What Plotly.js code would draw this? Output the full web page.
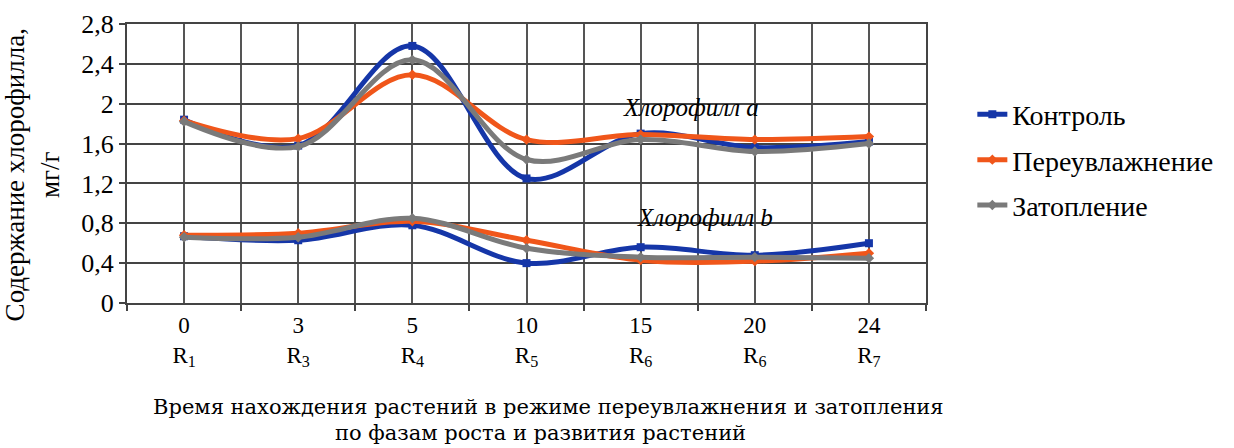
<!DOCTYPE html>
<html>
<head>
<meta charset="utf-8">
<script src="https://cdn.plot.ly/plotly-3.0.1.min.js"></script>
<style>html,body{margin:0;padding:0;background:#fff;}#chart{width:1234px;height:448px;}</style>
</head>
<body>
<div id="chart"></div>
<script>
const days = ['0', '3', '5', '10', '15', '20', '24'];
const phases = ['R<sub>1</sub>', 'R<sub>3</sub>', 'R<sub>4</sub>', 'R<sub>5</sub>', 'R<sub>6</sub>', 'R<sub>6</sub>', 'R<sub>7</sub>'];
const seriesNames = ['Контроль', 'Переувлажнение', 'Затопление'];
const chlA_control = [1.84, 1.58, 2.58, 1.25, 1.70, 1.56, 1.62];
const chlA_wet = [1.83, 1.65, 2.29, 1.64, 1.69, 1.64, 1.67];
const chlA_flood = [1.82, 1.57, 2.44, 1.44, 1.64, 1.52, 1.60];
const chlB_control = [0.67, 0.63, 0.78, 0.40, 0.56, 0.48, 0.60];
const chlB_wet = [0.68, 0.70, 0.82, 0.63, 0.43, 0.42, 0.50];
const chlB_flood = [0.66, 0.66, 0.85, 0.55, 0.46, 0.46, 0.45];
const colors = ['#1536a8', '#f0561a', '#7a7a7a'];
const symbols = ['square', 'diamond', 'diamond'];
const xTitle1 = 'Время нахождения растений в режиме переувлажнения и затопления';
const xTitle2 = 'по фазам роста и развития растений';
const yTitle = 'Содержание хлорофилла,<br>мг/г';

const xIdx = days.map((d, i) => i);
const tickText = days.map((d, i) => d + '<br>' + phases[i]);
const FONT = 'Liberation Serif, Times New Roman, serif';
const WIDE = 'DejaVu Serif, Liberation Serif, serif';

const aSeries = [chlA_control, chlA_wet, chlA_flood];
const bSeries = [chlB_control, chlB_wet, chlB_flood];
const traces = [];
for (let k = 0; k < 3; k++) {
  traces.push({
    x: xIdx, y: aSeries[k], type: 'scatter', mode: 'lines+markers',
    name: seriesNames[k], legendgroup: 'g' + k, showlegend: true,
    line: {color: colors[k], width: 5, shape: 'spline', smoothing: 1},
    marker: {color: colors[k], size: 8, symbol: symbols[k]}
  });
}
for (let k = 0; k < 3; k++) {
  traces.push({
    x: xIdx, y: bSeries[k], type: 'scatter', mode: 'lines+markers',
    name: seriesNames[k], legendgroup: 'g' + k, showlegend: false,
    line: {color: colors[k], width: 5, shape: 'spline', smoothing: 1},
    marker: {color: colors[k], size: 8, symbol: symbols[k]}
  });
}

const layout = {
  width: 1234, height: 448,
  margin: {l: 127, r: 308, t: 24, b: 145},
  paper_bgcolor: '#fff', plot_bgcolor: '#fff',
  separators: ',.',
  font: {family: FONT, color: '#000', size: 24},
  showlegend: true,
  legend: {
    x: 1.058, xanchor: 'left', y: 0.765, yanchor: 'top',
    font: {family: FONT, size: 28, color: '#000'},
    traceorder: 'grouped', tracegroupgap: 6,
    bgcolor: 'rgba(0,0,0,0)'
  },
  xaxis: {
    range: [-0.5, 6.5], tickmode: 'array', tickvals: xIdx, ticktext: tickText,
    showgrid: true, gridcolor: '#555', gridwidth: 2,
    ticks: '', showline: true, linecolor: '#444', linewidth: 2, mirror: true,
    tickfont: {family: FONT, size: 23, color: '#000'},
    minor: {tickmode: 'linear', tick0: -0.5, dtick: 1, showgrid: true, gridcolor: '#555', gridwidth: 2, ticks: 'outside', ticklen: 6, tickcolor: '#444', tickwidth: 2},
    zeroline: false, fixedrange: true
  },
  yaxis: {
    range: [0, 2.8], tickmode: 'linear', tick0: 0, dtick: 0.4,
    showgrid: true, gridcolor: '#444', gridwidth: 2,
    ticks: 'outside', ticklen: 6, tickcolor: '#444', tickwidth: 2,
    showline: true, linecolor: '#444', linewidth: 2, mirror: true,
    tickfont: {family: FONT, size: 26, color: '#000'},
    zeroline: false, fixedrange: true
  },
  annotations: [
    {xref: 'x', yref: 'y', x: 4.44, y: 1.96, text: '<i>Хлорофилл a</i>', showarrow: false,
     font: {family: FONT, size: 25, color: '#000'}},
    {xref: 'x', yref: 'y', x: 4.56, y: 0.86, text: '<i>Хлорофилл b</i>', showarrow: false,
     font: {family: FONT, size: 25, color: '#000'}},
    {xref: 'paper', yref: 'paper', x: (548 - 127) / 799, y: (303 - 407) / 279, yanchor: 'middle', xanchor: 'center',
     text: xTitle1, showarrow: false, font: {family: WIDE, size: 21, color: '#000'}},
    {xref: 'paper', yref: 'paper', x: (540 - 127) / 799, y: (303 - 433) / 279, yanchor: 'middle', xanchor: 'center',
     text: xTitle2, showarrow: false, font: {family: WIDE, size: 21, color: '#000'}},
    {xref: 'paper', yref: 'paper', x: -0.118, xanchor: 'center', y: 0.46, yanchor: 'middle',
     text: yTitle, textangle: -90, showarrow: false,
     font: {family: FONT, size: 27, color: '#000'}}
  ]
};

Plotly.newPlot('chart', traces, layout, {displayModeBar: false, staticPlot: true});
</script>
</body>
</html>
